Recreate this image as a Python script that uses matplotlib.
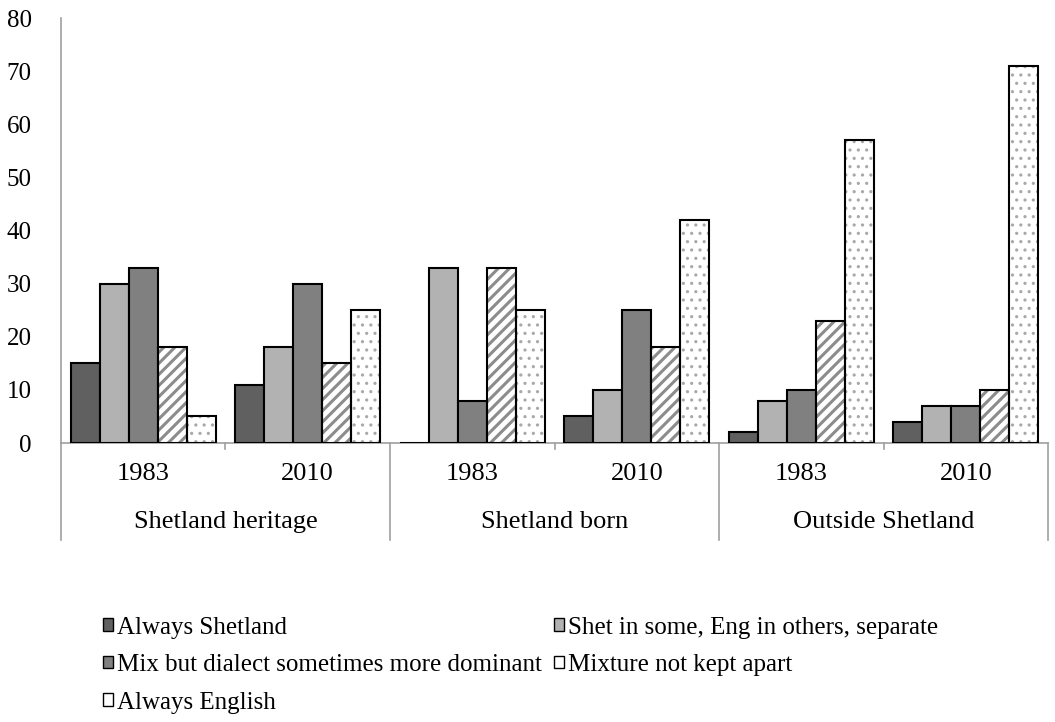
import numpy as np
import matplotlib.pyplot as plt
import matplotlib.transforms as mtransforms
from matplotlib.patches import Patch

plt.rcParams['font.family'] = ['Liberation Serif', 'DejaVu Serif']
plt.rcParams['hatch.linewidth'] = 2.2

groups = ['Shetland heritage', 'Shetland born', 'Outside Shetland']
years = ['1983', '2010']
series = ['Always Shetland', 'Shet in some, Eng in others, separate',
          'Mix but dialect sometimes more dominant', 'Mixture not kept apart',
          'Always English']

always_shetland = [15, 11, 0, 5, 2, 4]
shet_some_eng_others = [30, 18, 33, 10, 8, 7]
mix_dialect_dominant = [33, 30, 8, 25, 10, 7]
mixture_not_apart = [18, 15, 33, 18, 23, 10]
always_english = [5, 25, 25, 42, 57, 71]

values = [always_shetland, shet_some_eng_others, mix_dialect_dominant,
          mixture_not_apart, always_english]
fills = ['#606060', '#b2b2b2', '#808080', 'white', 'white']
hatches = [None, None, None, '///', '..']
hatch_cols = [None, None, None, '#8c8c8c', '#a8a8a8']
hatch_lw = [None, None, None, 2.2, 1.1]
FS = 19

fig = plt.figure(figsize=(10.55, 7.22), dpi=100)
ax = fig.add_axes([0.0578, 0.3864, 0.9356, 0.5886])

n = len(series)
x = np.arange(len(groups) * len(years))
width = 0.88 / n


def set_hlw(patches, lw):
    for p in patches:
        if hasattr(p, 'set_hatch_linewidth'):
            p.set_hatch_linewidth(lw)


handles = []
for i in range(n):
    pos = x - 0.44 + width * (i + 0.5)
    if hatches[i]:
        bars = ax.bar(pos, values[i], width, color=fills[i],
                      edgecolor=hatch_cols[i], hatch=hatches[i], linewidth=0,
                      zorder=2)
        set_hlw(bars, hatch_lw[i])
        ax.bar(pos, values[i], width, fill=False, edgecolor='black',
               linewidth=1.5, zorder=3)
    else:
        ax.bar(pos, values[i], width, color=fills[i], edgecolor='black',
               linewidth=1.5, zorder=3)
    h = Patch(facecolor=fills[i], edgecolor='black', linewidth=1)
    handles.append(h)

ax.set_xlim(-0.5, len(x) - 0.5)
ax.set_ylim(0, 80)
ax.set_yticks(range(0, 81, 10))
ax.tick_params(axis='y', length=0, labelsize=18, pad=21)
ax.set_xticks([])

for s in ['top', 'right']:
    ax.spines[s].set_visible(False)
for s in ['left', 'bottom']:
    ax.spines[s].set_color('#a0a0a0')
    ax.spines[s].set_linewidth(1.2)

trans = mtransforms.blended_transform_factory(ax.transData, ax.transAxes)
for k in range(len(groups) + 1):
    xs = -0.5 + 2 * k
    ax.plot([xs, xs], [0, -0.228], transform=trans, color='#a0a0a0',
            lw=1.2, clip_on=False)
for k in range(len(groups)):
    xm = 0.5 + 2 * k
    ax.plot([xm, xm], [0, -0.015], transform=trans, color='#a0a0a0',
            lw=1.2, clip_on=False)
    ax.text(xm, -0.185, groups[k], transform=trans, ha='center', va='center',
            fontsize=FS)
for j, xi in enumerate(x):
    ax.text(xi, -0.073, years[j % 2], transform=trans, ha='center',
            va='center', fontsize=FS)

order = [0, 2, 4, 1, 3]
fig.legend([handles[i] for i in order], [series[i] for i in order],
           ncol=2, loc='upper left', bbox_to_anchor=(0.0976, 0.146),
           frameon=False, fontsize=18, handlelength=0.4, handleheight=0.4,
           handletextpad=0.15, columnspacing=0.5, labelspacing=0.62,
           borderaxespad=0, borderpad=0)

fig.savefig('out.png', dpi=100)
